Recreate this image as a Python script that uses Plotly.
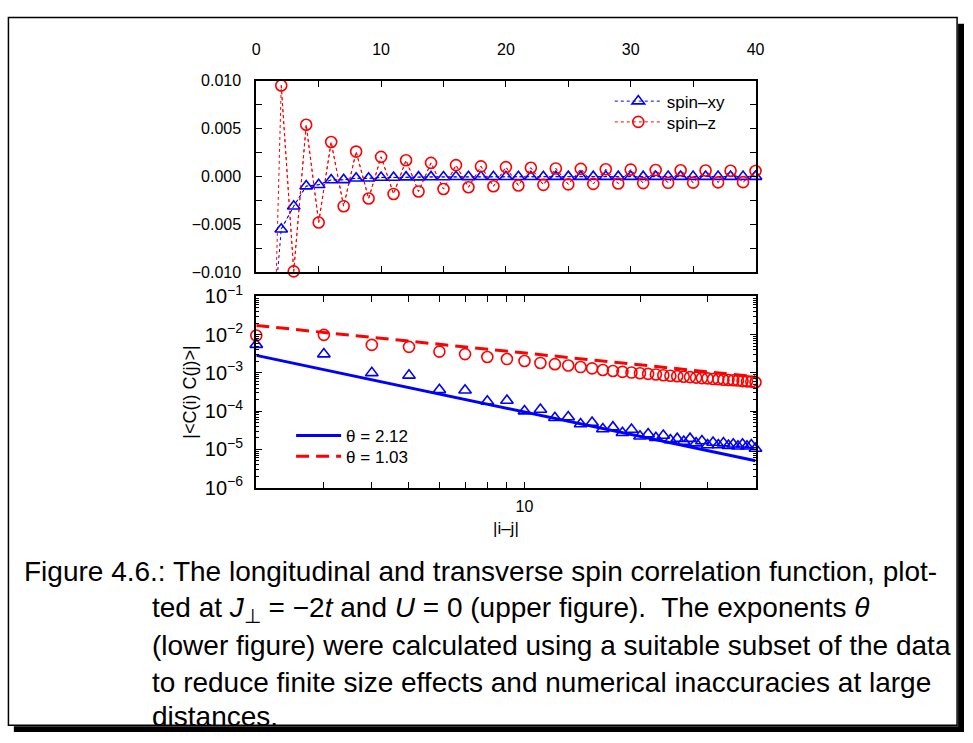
import numpy as np
import plotly.graph_objects as go

W, H = 973, 743

# distance |i-j|
dist = list(range(1, 41))

# longitudinal (spin-z) correlation, signed
spin_z = [-0.040, 0.0095, -0.0099, 0.0054, -0.0048, 0.0036, -0.0031, 0.0026, -0.0023, 0.00205,
          -0.00182, 0.00169, -0.00156, 0.00142, -0.00131, 0.00119, -0.00112, 0.00106, -0.00102, 0.00098,
          -0.00094, 0.00091, -0.00087, 0.00084, -0.00082, 0.00079, -0.000775, 0.00075, -0.00073, 0.00072,
          -0.00069, 0.00068, -0.00066, 0.00065, -0.00064, 0.00063, -0.00061, 0.00060, -0.00059, 0.00057]

# transverse (spin-xy) correlation, signed
spin_xy = [-0.021, -0.0055, -0.0031, -0.0010, -0.00086, -0.00036, -0.00035, -0.00018, -0.00019, -0.00010,
           -0.00011, -6.7e-5, -7.0e-5, -4.6e-5, -5.0e-5, -3.4e-5, -3.8e-5, -2.7e-5, -3.3e-5, -2.2e-5,
           -2.5e-5, -2.0e-5, -2.3e-5, -1.75e-5, -1.9e-5, -1.6e-5, -1.9e-5, -1.45e-5, -1.65e-5, -1.3e-5,
           -1.5e-5, -1.3e-5, -1.45e-5, -1.25e-5, -1.35e-5, -1.2e-5, -1.35e-5, -1.2e-5, -1.3e-5, -1.05e-5]

# power-law fits  A * r^(-theta)
theta_xy, amp_xy = 2.12, 0.0125
theta_z, amp_z = 1.03, 0.0355

fit_r = np.linspace(2, 40, 200)

BLUE = "#0000ff"
RED = "#ff0000"
FONT = "Liberation Sans"

r = np.array(dist)
zz = np.array(spin_z)
xy = np.array(spin_xy)
shown = r >= 2          # points inside the plotted window

fig = go.Figure()

# upper panel: connecting lines over every point (clipped at the frame)
for vals, col in ((xy, BLUE), (zz, RED)):
    fig.add_trace(go.Scatter(x=r, y=vals, mode="lines", showlegend=False, hoverinfo="skip",
                             line=dict(color=col, width=1, dash="dot"), xaxis="x", yaxis="y"))

# upper panel: symbols (not clipped, so the edge points stay whole)
fig.add_trace(go.Scatter(x=r[shown], y=xy[shown], mode="lines+markers", name="spin\u2013xy",
                         line=dict(color=BLUE, width=1, dash="dot"), cliponaxis=False,
                         marker=dict(symbol="triangle-up-open", size=11, color=BLUE, line=dict(width=1.6)),
                         xaxis="x", yaxis="y", legend="legend"))
fig.add_trace(go.Scatter(x=r[shown], y=zz[shown], mode="lines+markers", name="spin\u2013z",
                         line=dict(color=RED, width=1, dash="dot"), cliponaxis=False,
                         marker=dict(symbol="circle-open", size=11, color=RED, line=dict(width=1.6)),
                         xaxis="x", yaxis="y", legend="legend3"))

# lower panel: absolute values on log-log scale
fig.add_trace(go.Scatter(x=r[shown], y=np.abs(xy[shown]), mode="markers", showlegend=False,
                         cliponaxis=False,
                         marker=dict(symbol="triangle-up-open", size=11, color=BLUE, line=dict(width=1.6)),
                         xaxis="x2", yaxis="y2"))
fig.add_trace(go.Scatter(x=r[shown], y=np.abs(zz[shown]), mode="markers", showlegend=False,
                         cliponaxis=False,
                         marker=dict(symbol="circle-open", size=11, color=RED, line=dict(width=1.6)),
                         xaxis="x2", yaxis="y2"))
fig.add_trace(go.Scatter(x=fit_r, y=amp_xy * fit_r ** (-theta_xy), mode="lines",
                         name=f"\u03b8 = {theta_xy:.2f}", line=dict(color=BLUE, width=3),
                         xaxis="x2", yaxis="y2", legend="legend2"))
fig.add_trace(go.Scatter(x=fit_r, y=amp_z * fit_r ** (-theta_z), mode="lines",
                         name=f"\u03b8 = {theta_z:.2f}", line=dict(color=RED, width=3, dash="13px,7px"),
                         xaxis="x2", yaxis="y2", legend="legend4"))

xdom = [255.7 / W, 761.7 / W]
axis_common = dict(showline=True, linecolor="black", linewidth=2, mirror="ticks",
                   ticks="inside", ticklen=6, tickwidth=1, tickcolor="black",
                   showgrid=False, zeroline=False, tickfont=dict(family=FONT, size=16, color="black"))


def key(x_px, y_px, width):
    return dict(x=x_px / W, y=1 - y_px / H, xanchor="left", yanchor="top", itemwidth=width,
                bgcolor="rgba(0,0,0,0)", font=dict(family=FONT, size=17), tracegroupgap=0)


eps = 1e-5
fig.update_layout(
    width=W, height=H,
    margin=dict(l=0, r=0, t=0, b=0),
    paper_bgcolor="white", plot_bgcolor="white",
    font=dict(family=FONT, size=16, color="black"),
    xaxis=dict(domain=xdom, range=[0, 40], side="top", dtick=10, anchor="y", ticklabelstandoff=17,
               minor=dict(dtick=5, ticks="inside", ticklen=6, tickcolor="black"), **axis_common),
    yaxis=dict(domain=[1 - 267.3 / H, 1 - 69 / H], range=[-0.01, 0.01], dtick=0.005,
               tickformat=".3f", anchor="x", ticklabelstandoff=10,
               minor=dict(dtick=0.0025, ticks="inside", ticklen=6, tickcolor="black"), **axis_common),
    xaxis2=dict(domain=xdom, type="log", range=[np.log10(2) - eps, np.log10(40) + eps], anchor="y2",
                tickvals=[10], ticktext=["10"], ticklabelstandoff=3,
                minor=dict(tickvals=[2, 3, 4, 5, 6, 7, 8, 9, 20, 30, 40], ticks="inside",
                           ticklen=6, tickcolor="black"),
                title=dict(text="|i\u2013j|", font=dict(family=FONT, size=17), standoff=8),
                **axis_common),
    yaxis2=dict(domain=[1 - 490 / H, 1 - 292.3 / H], type="log", range=[-6, -1], dtick=1,
                exponentformat="power", anchor="x2", ticklabelstandoff=8,
                minor=dict(dtick="D1", ticks="inside", ticklen=3, tickcolor="black"),
                title=dict(text="|&lt;C(i) C(j)&gt;|", font=dict(family=FONT, size=18), standoff=4),
                **axis_common),
    legend=key(614, 72, 47),
    legend3=key(614, 93.5, 47),
    legend2=key(291, 418, 45),
    legend4=key(291, 439.5, 45),
)

# caption below the figure
cap_font = dict(family=FONT, size=28, color="black")
caption = [
    (18, 577, "Figure 4.6.: The longitudinal and transverse spin correlation function, plot-"),
    (148, 616, "ted at <i>J</i><sub>\u22a5</sub> = \u22122<i>t</i> and <i>U</i> = 0 (upper figure).  The exponents <i>\u03b8</i>"),
    (148, 654, "(lower figure) were calculated using a suitable subset of the data"),
    (148, 692, "to reduce finite size effects and numerical inaccuracies at large"),
    (148, 727, "distances."),
]
for cx, cy, txt in caption:
    fig.add_annotation(x=cx / W, y=1 - cy / H, xref="paper", yref="paper", text=txt,
                       showarrow=False, xanchor="left", yanchor="middle", font=cap_font)

# page frame with drop shadow
fig.add_shape(type="rect", xref="paper", yref="paper", x0=4.5 / W, x1=966 / W,
              y0=1 - 736 / H, y1=1 - 3.5 / H, line=dict(color="black", width=1.5))
fig.add_shape(type="rect", xref="paper", yref="paper", x0=10 / W, x1=1,
              y0=0, y1=1 - 737 / H, line=dict(width=0), fillcolor="black")
fig.add_shape(type="rect", xref="paper", yref="paper", x0=967 / W, x1=1,
              y0=0, y1=1 - 10 / H, line=dict(width=0), fillcolor="black")

fig.write_html("out.html")
